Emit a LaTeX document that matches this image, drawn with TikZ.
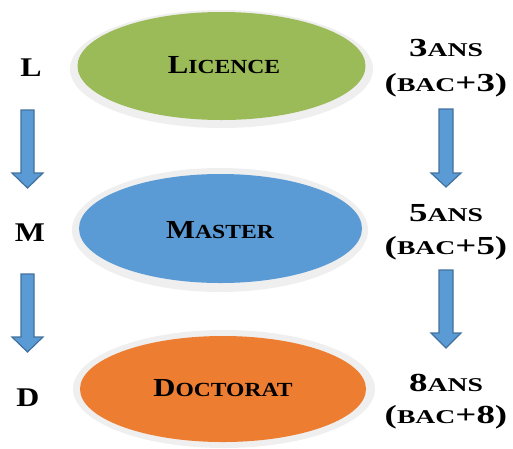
\documentclass[tikz,border=0pt]{standalone}
\usepackage{fontspec}
\setmainfont{Liberation Serif}[FakeStretch=1.18]
\newfontfamily\widefont{Liberation Serif}[FakeStretch=1.42]
\usetikzlibrary{shapes.geometric}
\definecolor{lgreen}{HTML}{9BBB59}
\definecolor{lblue}{HTML}{5B9BD5}
\definecolor{lorange}{HTML}{ED7D31}
\definecolor{rimgrey}{HTML}{EFEFEF}
\definecolor{arrowline}{HTML}{41719C}
\newcommand{\bigsc}[2]{{\fontsize{26}{28}\selectfont #1}{\fontsize{20}{22}\selectfont #2}}
\newcommand{\sidesc}[2]{{\fontsize{26}{28}\selectfont #1}{\fontsize{19.5}{22}\selectfont #2}}
\tikzset{
  oval/.style={ellipse, inner sep=0pt, font=\bfseries},
  rim/.style={fill=rimgrey, draw=none},
  sidetext/.style={font=\widefont\bfseries, align=center, inner sep=0pt},
  letter/.style={font=\bfseries\fontsize{27}{28}\selectfont, inner sep=0pt},
  blockarrow/.style={fill=lblue, draw=arrowline, line width=1.2pt, line join=miter}
}
\begin{document}
\begin{tikzpicture}[x=1pt,y=-1pt]
\useasboundingbox (0,0) rectangle (513,448);
% rims
\fill[rim] (221.5,69) ellipse [x radius=151.5, y radius=59];
\fill[rim] (220,230) ellipse [x radius=148, y radius=62];
\fill[rim] (224,389) ellipse [x radius=151, y radius=59];
% ovals
\node[oval, fill=lgreen, minimum width=288pt, minimum height=108pt] (lic) at (221.5,66) {};
\node[oval, fill=lblue, minimum width=283pt, minimum height=109pt] (mas) at (220.5,228.5) {};
\node[oval, fill=lorange, minimum width=286pt, minimum height=106pt] (doc) at (223,389) {};
\node[font=\bfseries, inner sep=0pt] (licT) at (224,65) {\bigsc{L}{ICENCE}};
\node[font=\bfseries, inner sep=0pt] (masT) at (220,230) {\bigsc{M}{ASTER}};
\node[font=\bfseries, inner sep=0pt] (docT) at (223,388) {\bigsc{D}{OCTORAT}};
% letters
\node[letter] (L) at (31,68) {L};
\node[letter] (M) at (30,233) {M};
\node[letter] (D) at (28,398) {D};
% left arrows
\draw[blockarrow] (21,110) -- (34,110) -- (34,173) -- (43,173) -- (27.5,188) -- (12,173) -- (21,173) -- cycle;
\draw[blockarrow] (21,274) -- (34,274) -- (34,337) -- (43,337) -- (27.5,352) -- (12,337) -- (21,337) -- cycle;
% right texts
\node[sidetext] (t3) at (446,48) {\sidesc{3}{ANS}};
\node[sidetext] (b3) at (446,85) {\sidesc{(}{BAC}\sidesc{+3)}{}};
\node[sidetext] (t5) at (446,213) {\sidesc{5}{ANS}};
\node[sidetext] (b5) at (446,248) {\sidesc{(}{BAC}\sidesc{+5)}{}};
\node[sidetext] (t8) at (446,383) {\sidesc{8}{ANS}};
\node[sidetext] (b8) at (446,417) {\sidesc{(}{BAC}\sidesc{+8)}{}};
% right arrows
\draw[blockarrow] (439,109) -- (453,109) -- (453,173) -- (461,173) -- (446,187) -- (431,173) -- (439,173) -- cycle;
\draw[blockarrow] (439,270) -- (453,270) -- (453,333) -- (461,333) -- (446,348) -- (431,333) -- (439,333) -- cycle;
\end{tikzpicture}
\end{document}
